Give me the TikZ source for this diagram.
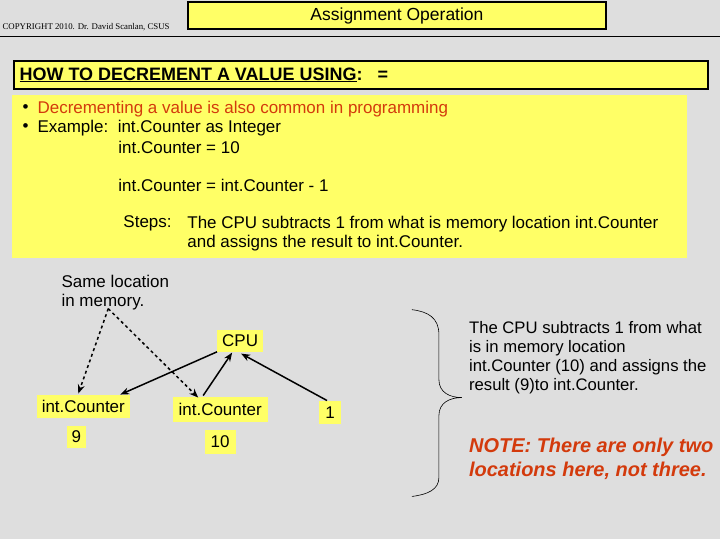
\documentclass[tikz,border=0pt]{standalone}
\usepackage{fontspec}
\setmainfont{Liberation Sans}
\newfontfamily\serifcr{Liberation Serif}
\usetikzlibrary{arrows.meta}
\definecolor{bg}{HTML}{DEDEDE}
\definecolor{yel}{HTML}{FFFF66}
\definecolor{redt}{HTML}{D33A0C}
\tikzset{
  ybox/.style={fill=yel,inner sep=3pt},
  txt/.style={anchor=west,inner sep=0pt,font=\fontsize{17}{19}\selectfont},
  arr/.style={-{Stealth[length=9pt,width=7pt]},line width=1.5pt},
  darr/.style={arr,dashed},
}
\begin{document}
\begin{tikzpicture}[x=1pt,y=-1pt]
\fill[bg] (0,0) rectangle (720,540);
\node[inner sep=0pt,anchor=west,font=\serifcr\fontsize{8.8}{9}\selectfont] (copy) at (2,27) {COPYRIGHT 2010. Dr. David Scanlan, CSUS};
\node[draw,line width=2pt,fill=yel,minimum width=418pt,minimum height=27pt,font=\fontsize{17.5}{18}\selectfont] (title) at (397,16) {Assignment Operation};
\draw[line width=0.8pt] (0,36) -- (720,36);
\node[draw,line width=2pt,fill=yel,minimum width=694pt,minimum height=28pt,anchor=west] (head) at (13,75) {};
\node[txt,font=\bfseries\fontsize{18}{18}\selectfont] (headt) at (19,75) {\underline{HOW TO DECREMENT A VALUE USING}:\ \ \ =};
\fill[yel] (12,95) rectangle (687,258);
\node[txt] (b1) at (22,109) {•};
\node[txt,text=redt] (t1) at (37,109) {Decrementing a value is also common in programming};
\node[txt] (b2) at (22,128) {•};
\node[txt] (t2) at (37,128) {Example:\ \ int.Counter as Integer};
\node[txt] (t3) at (118,148) {int.Counter = 10};
\node[txt] (t4) at (118,186) {int.Counter = int.Counter - 1};
\node[txt] (s0) at (123,224) {Steps:};
\node[txt] (s1) at (187,224) {The CPU subtracts 1 from what is memory location int.Counter};
\node[txt] (s2) at (187,243) {and assigns the result to int.Counter.};
\node[txt,align=left,anchor=north west] (same) at (61,275) {Same location\\in memory.};
\node[ybox,txt,anchor=center,inner sep=5pt] (cpu) at (240,341) {CPU};
\node[ybox,txt,anchor=center,inner sep=5pt] (ic1) at (83,407) {int.Counter};
\node[ybox,txt,anchor=center,inner sep=5pt] (v9) at (76,437) {9};
\node[ybox,txt,anchor=center,inner sep=6pt] (ic2) at (220,410) {int.Counter};
\node[ybox,txt,anchor=center,inner sep=6pt] (v10) at (220,442) {10};
\node[ybox,txt,anchor=center,inner sep=6pt] (one) at (330,413) {1};
\coordinate (sm) at (108,309);
\draw[darr] (sm) -- (78,394);
\draw[darr] (sm) -- (198,398);
\draw[arr] (cpu.south west) -- (120,395);
\draw[arr] (203,396) -- (232,353);
\draw[arr] (327,401) -- (241,354);
\draw[line width=0.6pt] (412,310) .. controls (428,312) and (439,318) .. (439,335) -- (439,380) .. controls (439,393) and (450,398) .. (462,398)
  .. controls (450,398) and (439,403) .. (439,416) -- (439,478) .. controls (439,490) and (428,495) .. (412,497);
\node[txt,align=left,anchor=north west,font=\fontsize{16.7}{19}\selectfont] (desc) at (469,322) {The CPU subtracts 1 from what\\is in memory location\\int.Counter (10) and assigns the\\result (9)to int.Counter.};
\node[txt,align=left,anchor=north west,text=redt,font=\bfseries\itshape\fontsize{20}{24}\selectfont] (note) at (469,438) {NOTE: There are only two\\locations here, not three.};
\end{tikzpicture}
\end{document}
